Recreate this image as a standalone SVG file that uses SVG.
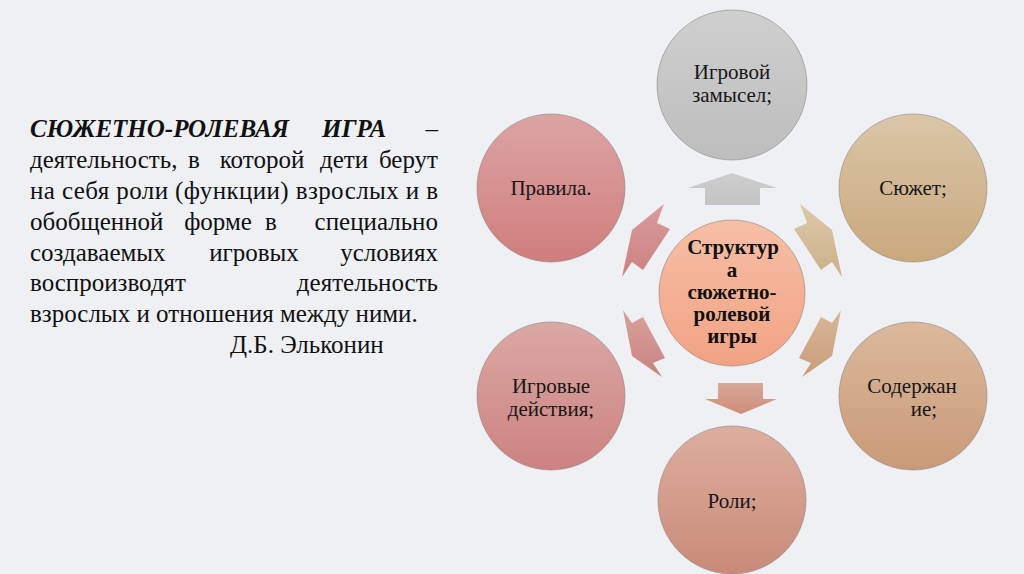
<svg xmlns="http://www.w3.org/2000/svg" width="1024" height="574" viewBox="0 0 1024 574">
<defs>
<style>
text{font-family:'Liberation Serif','Times New Roman','DejaVu Serif',serif}
.para{font-size:25px;fill:#111}
.bi{font-weight:bold;font-style:italic}
.mid{text-anchor:middle}
.end{text-anchor:end}
.lbl{font-size:21px;fill:#161616;text-anchor:middle}
.ctr{font-size:21px;font-weight:bold;fill:#111;text-anchor:middle}
.circ{stroke:#8a7c78;stroke-opacity:0.55;stroke-width:1}
</style>
<linearGradient id="gTop" x1="0" y1="0" x2="0" y2="1"><stop offset="0" stop-color="#cfcfcf"/><stop offset="1" stop-color="#bdbdbd"/></linearGradient>
<linearGradient id="gPr" x1="0" y1="0" x2="0" y2="1"><stop offset="0" stop-color="#dca4a4"/><stop offset="1" stop-color="#cf7e7c"/></linearGradient>
<linearGradient id="gSj" x1="0" y1="0" x2="0" y2="1"><stop offset="0" stop-color="#dac6a8"/><stop offset="1" stop-color="#c9a87c"/></linearGradient>
<linearGradient id="gId" x1="0" y1="0" x2="0" y2="1"><stop offset="0" stop-color="#dba8a4"/><stop offset="1" stop-color="#cc8280"/></linearGradient>
<linearGradient id="gSd" x1="0" y1="0" x2="0" y2="1"><stop offset="0" stop-color="#dbb89c"/><stop offset="1" stop-color="#c99a78"/></linearGradient>
<linearGradient id="gRo" x1="0" y1="0" x2="0" y2="1"><stop offset="0" stop-color="#ddae9f"/><stop offset="1" stop-color="#c98a78"/></linearGradient>
<linearGradient id="gC" x1="0" y1="0" x2="0" y2="1"><stop offset="0" stop-color="#f6bfa6"/><stop offset="1" stop-color="#f2a283"/></linearGradient>
<linearGradient id="aTop" x1="0" y1="0" x2="0" y2="1"><stop offset="0" stop-color="#cdcdcd"/><stop offset="1" stop-color="#c4c4c4"/></linearGradient>
<linearGradient id="aBot" x1="0" y1="0" x2="0" y2="1"><stop offset="0" stop-color="#d8a898"/><stop offset="1" stop-color="#cf8c78"/></linearGradient>
<linearGradient id="aUL" x1="0" y1="0" x2="0" y2="1"><stop offset="0" stop-color="#d89c9c"/><stop offset="1" stop-color="#cc8080"/></linearGradient>
<linearGradient id="aLL" x1="0" y1="0" x2="0" y2="1"><stop offset="0" stop-color="#d9a29e"/><stop offset="1" stop-color="#c9827e"/></linearGradient>
<linearGradient id="aUR" x1="0" y1="0" x2="0" y2="1"><stop offset="0" stop-color="#dcc8aa"/><stop offset="1" stop-color="#ccb088"/></linearGradient>
<linearGradient id="aLR" x1="0" y1="0" x2="0" y2="1"><stop offset="0" stop-color="#d8b898"/><stop offset="1" stop-color="#c89c78"/></linearGradient>
</defs>
<rect x="0" y="0" width="1024" height="574" fill="#eef0f4"/>

<g id="definition">
<text class="para bi" x="30" y="137">СЮЖЕТНО-РОЛЕВАЯ</text>
<text class="para bi" x="322" y="137">ИГРА</text>
<text class="para end" x="438" y="137">–</text>
<text class="para" x="30" y="168">деятельность,</text>
<text class="para mid" x="194" y="168">в</text>
<text class="para mid" x="262" y="168">которой</text>
<text class="para mid" x="344" y="168">дети</text>
<text class="para end" x="438" y="168">берут</text>
<text class="para" x="30" y="199" textLength="408" lengthAdjust="spacing">на себя роли (функции) взрослых и в</text>
<text class="para" x="30" y="230">обобщенной</text>
<text class="para mid" x="218" y="230">форме</text>
<text class="para mid" x="271" y="230">в</text>
<text class="para end" x="438" y="230">специально</text>
<text class="para" x="30" y="261">создаваемых</text>
<text class="para mid" x="254" y="261">игровых</text>
<text class="para end" x="438" y="261">условиях</text>
<text class="para" x="30" y="291">воспроизводят</text>
<text class="para end" x="438" y="291">деятельность</text>
<text class="para" x="30" y="322">взрослых и отношения между ними.</text>
<text class="para" x="230" y="353">Д.Б. Эльконин</text>
</g>

<g id="connectors">
<polygon points="732,173 777,188 760,188 760,205 705,205 705,188 688,188" fill="url(#aTop)"/>
<polygon points="718,383 763,383 763,399 777,399 741,414 705,399 718,399" fill="url(#aBot)"/>
<polygon points="664,204 657,223 670,229 643,270 632,262 622,277 632,230" fill="url(#aUL)"/>
<polygon points="623,310 632,323 643,317 665,358 653,363 662,377 632,356" fill="url(#aLL)"/>
<polygon points="800,204 807,223 794,229 821,270 832,262 842,277 832,230" fill="url(#aUR)"/>
<polygon points="841,310 832,323 821,317 799,358 811,363 802,377 832,356" fill="url(#aLR)"/>
</g>

<g id="node-zamysel">
<circle class="circ" cx="732" cy="85" r="75" fill="url(#gTop)"/>
<text class="lbl" x="732" y="79">Игровой</text>
<text class="lbl" x="732" y="102">замысел;</text>
</g>
<g id="node-pravila">
<circle class="circ" cx="551" cy="188" r="74" fill="url(#gPr)"/>
<text class="lbl" x="551" y="195">Правила.</text>
</g>
<g id="node-syuzhet">
<circle class="circ" cx="913" cy="188" r="74" fill="url(#gSj)"/>
<text class="lbl" x="913" y="195">Сюжет;</text>
</g>
<g id="node-deystviya">
<circle class="circ" cx="551" cy="396" r="74" fill="url(#gId)"/>
<text class="lbl" x="551" y="393">Игровые</text>
<text class="lbl" x="551" y="416">действия;</text>
</g>
<g id="node-soderzhanie">
<circle class="circ" cx="913" cy="396" r="74" fill="url(#gSd)"/>
<text class="lbl" x="912" y="393">Содержан</text>
<text class="lbl" x="924" y="416">ие;</text>
</g>
<g id="node-roli">
<circle class="circ" cx="732" cy="500" r="74" fill="url(#gRo)"/>
<text class="lbl" x="732" y="508">Роли;</text>
</g>
<g id="node-center">
<circle class="circ" cx="732" cy="293" r="73" fill="url(#gC)"/>
<text class="ctr" x="733" y="254">Структур</text>
<text class="ctr" x="732" y="277">а</text>
<text class="ctr" x="732" y="299">сюжетно-</text>
<text class="ctr" x="732" y="321">ролевой</text>
<text class="ctr" x="732" y="343">игры</text>
</g>
</svg>
